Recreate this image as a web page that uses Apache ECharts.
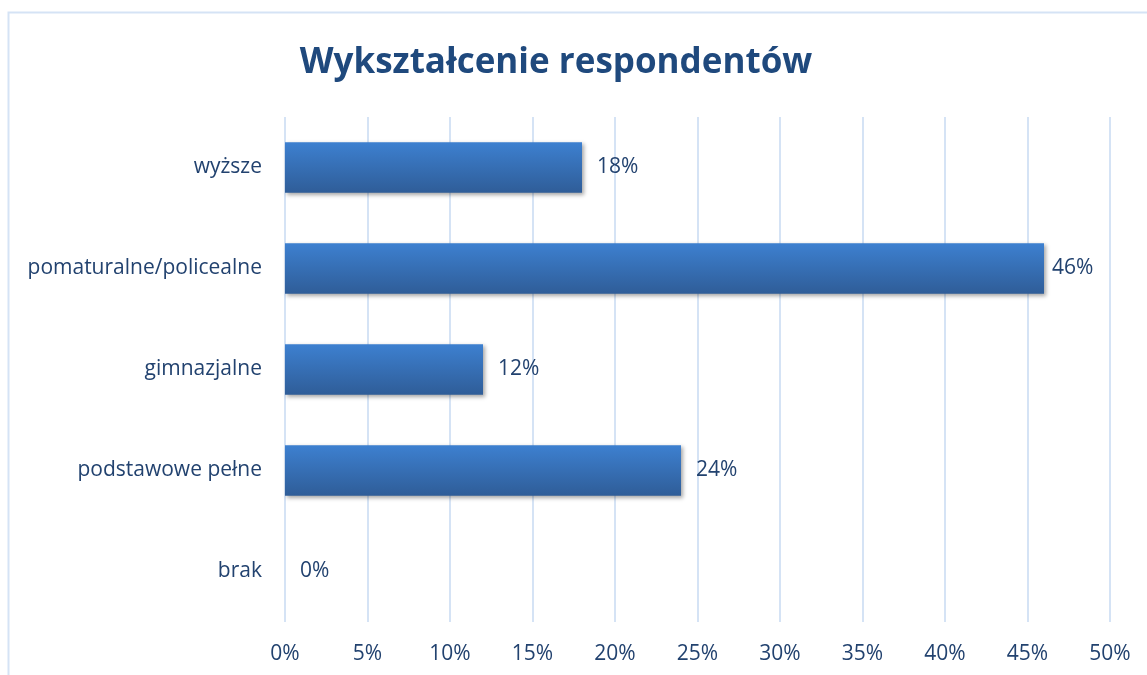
<!DOCTYPE html>
<html>
<head>
<meta charset="utf-8">
<script src="https://cdn.jsdelivr.net/npm/echarts@6/dist/echarts.min.js"></script>
<style>
  html, body { margin: 0; padding: 0; background: #fff; }
  #chart { width: 1147px; height: 675px; }
</style>
</head>
<body>
<div id="chart"></div>
<script>
// data (bottom to top, as the axis draws them)
const categories = ['brak', 'podstawowe pełne', 'gimnazjalne', 'pomaturalne/policealne', 'wyższe'];
const values = [0, 24, 12, 46, 18];
const xTicks = [0, 5, 10, 15, 20, 25, 30, 35, 40, 45, 50];

const textColor = '#22426f';
const font = '"Open Sans", "Noto Sans", sans-serif';

const chart = echarts.init(document.getElementById('chart'));

// the longest bar's label sits closer to the bar end in the original
const maxVal = Math.max(...values);
const barData = values.map(v => v === maxVal ? { value: v, label: { distance: 8 } } : v);

const option = {
  backgroundColor: '#fff',
  animation: false,
  title: {
    text: 'Wykształcenie respondentów',
    left: 551,
    textAlign: 'center',
    top: 41,
    textStyle: {
      color: '#1f497d',
      fontSize: 35,
      fontWeight: 'bold',
      fontFamily: font
    }
  },
  graphic: [{
    type: 'rect',
    shape: { x: 8.5, y: 12.5, width: 1200, height: 700 },
    style: { fill: 'none', stroke: '#d5e3f5', lineWidth: 2 },
    silent: true
  }],
  grid: {
    left: 285,
    right: 37,
    top: 117,
    bottom: 53,
    containLabel: false
  },
  xAxis: {
    type: 'value',
    min: xTicks[0],
    max: xTicks[xTicks.length - 1],
    interval: 5,
    axisLine: { show: false },
    axisTick: { show: false },
    splitLine: { show: true, lineStyle: { color: '#d5e3f5', width: 2 } },
    axisLabel: {
      formatter: '{value}%',
      color: textColor,
      fontSize: 21,
      fontFamily: font,
      margin: 22
    }
  },
  yAxis: {
    type: 'category',
    data: categories,
    axisLine: { show: false },
    axisTick: { show: false },
    axisLabel: {
      color: textColor,
      fontSize: 21,
      fontFamily: font,
      margin: 23
    }
  },
  series: [{
    type: 'bar',
    data: barData,
    barWidth: '50%',
    itemStyle: {
      color: new echarts.graphic.LinearGradient(0, 0, 0, 1, [
        { offset: 0, color: '#3d80d0' },
        { offset: 1, color: '#2f5d98' }
      ]),
      shadowColor: 'rgba(0,0,0,0.35)',
      shadowBlur: 4,
      shadowOffsetX: 2,
      shadowOffsetY: 2
    },
    label: {
      show: true,
      position: 'right',
      distance: 15,
      formatter: '{c}%',
      color: textColor,
      fontSize: 21,
      fontFamily: font
    }
  }]
};

chart.setOption(option);
</script>
</body>
</html>
